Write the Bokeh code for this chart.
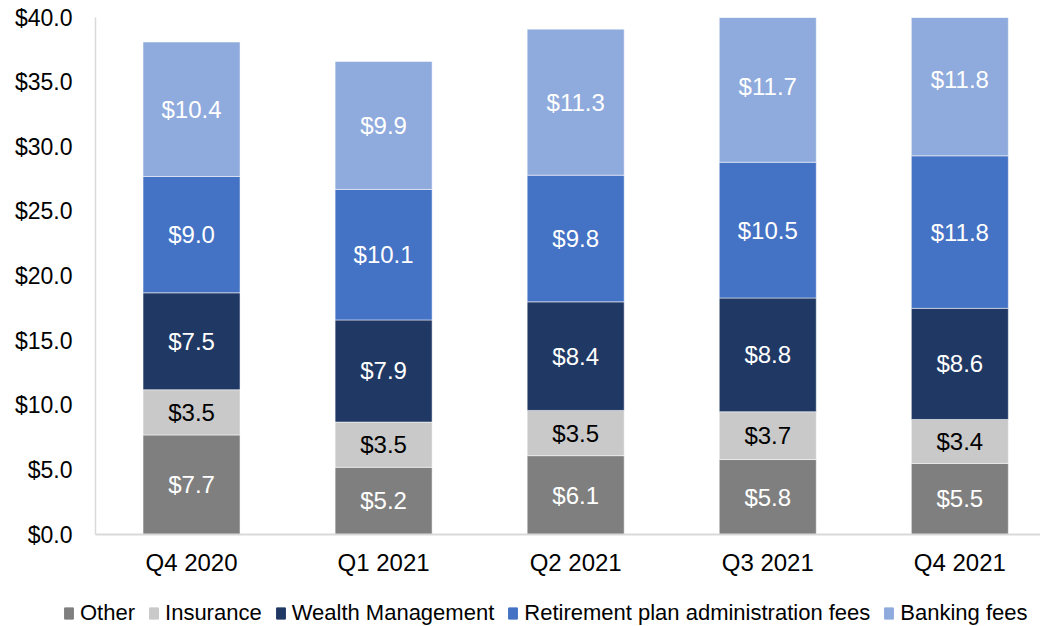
from bokeh.plotting import figure
from bokeh.layouts import column
from bokeh.models import (ColumnDataSource, Range1d, FixedTicker, NumeralTickFormatter,
                          Legend, LegendItem)
from bokeh.core.properties import value
from bokeh.embed import file_html
from bokeh.resources import INLINE

categories = ["Q4 2020", "Q1 2021", "Q2 2021", "Q3 2021", "Q4 2021"]
other = [7.7, 5.2, 6.1, 5.8, 5.5]
insurance = [3.5, 3.5, 3.5, 3.7, 3.4]
wealth = [7.5, 7.9, 8.4, 8.8, 8.6]
retirement = [9.0, 10.1, 9.8, 10.5, 11.8]
banking = [10.4, 9.9, 11.3, 11.7, 11.8]

series_names = ["Other", "Insurance", "Wealth Management",
                "Retirement plan administration fees", "Banking fees"]
series_keys = ["other", "insurance", "wealth", "retirement", "banking"]
series_vals = [other, insurance, wealth, retirement, banking]
colors = ["#7F7F7F", "#C9C9C9", "#203864", "#4472C4", "#8FAADC"]
text_colors = ["#FFFFFF", "#000000", "#FFFFFF", "#FFFFFF", "#FFFFFF"]

FONT = "Liberation Sans"
xs = list(range(len(categories)))

data = {"x": xs}
for k, v in zip(series_keys, series_vals):
    data[k] = v
source = ColumnDataSource(data)

p = figure(width=1040, height=598, output_backend="svg", toolbar_location=None,
           x_range=Range1d(-0.5, 4.42), y_range=Range1d(0, 40),
           min_border_left=95, min_border_right=0, min_border_top=17,
           min_border_bottom=64)
p.outline_line_color = None
p.xgrid.visible = False
p.ygrid.visible = False

renderers = p.vbar_stack(series_keys, x="x", width=0.505, source=source,
                         color=colors, line_color="white", line_width=0.5)

# labels
lx, ly, lt, lc = [], [], [], []
base = [0.0] * len(categories)
for vals, tc in zip(series_vals, text_colors):
    for i, v in enumerate(vals):
        lx.append(xs[i])
        ly.append(base[i] + v / 2.0)
        lt.append("${:.1f}".format(v))
        lc.append(tc)
        base[i] += v
lsrc = ColumnDataSource(dict(x=lx, y=ly, t=lt, c=lc))
p.text(x="x", y="y", text="t", source=lsrc, text_color="c",
       text_align="center", text_baseline="middle",
       text_font=value(FONT), text_font_size="24px")

# axes
p.yaxis.ticker = FixedTicker(ticks=[0, 5, 10, 15, 20, 25, 30, 35, 40])
p.yaxis.formatter = NumeralTickFormatter(format="$0.0")
p.yaxis.major_label_text_font = FONT
p.yaxis.major_label_text_font_size = "23px"
p.yaxis.major_label_text_color = "#000000"
p.yaxis.axis_line_color = "#D9D9D9"
p.yaxis.axis_line_width = 1.5
p.yaxis.major_tick_line_color = None
p.yaxis.minor_tick_line_color = None
p.yaxis.major_tick_out = 0
p.yaxis.major_tick_in = 0
p.yaxis.major_label_standoff = 23

p.xaxis.ticker = FixedTicker(ticks=xs)
p.xaxis.major_label_overrides = {i: c for i, c in zip(xs, categories)}
p.xaxis.major_label_text_font = FONT
p.xaxis.major_label_text_font_size = "24px"
p.xaxis.major_label_text_color = "#000000"
p.xaxis.axis_line_color = "#D9D9D9"
p.xaxis.axis_line_width = 2
p.xaxis.major_tick_line_color = None
p.xaxis.minor_tick_line_color = None
p.xaxis.major_tick_out = 0
p.xaxis.major_tick_in = 0
p.xaxis.major_label_standoff = 14

# legend strip
q = figure(width=1040, height=28, output_backend="svg", toolbar_location=None,
           x_range=Range1d(0, 1), y_range=Range1d(0, 1),
           min_border_left=0, min_border_right=0, min_border_top=0,
           min_border_bottom=0)
q.axis.visible = False
q.grid.visible = False
q.outline_line_color = None
swatches = [q.vbar(x=[-5], top=[-5], bottom=[-6], width=0.1, color=c) for c in colors]

legend_x = 63
try:
    q.frame_align = False
except Exception:
    legend_x = 0

legend = Legend(items=[LegendItem(label=n, renderers=[r])
                       for n, r in zip(series_names, swatches)],
                orientation="horizontal", location=(legend_x, 0),
                label_text_font=FONT, label_text_font_size="22px",
                label_text_color="#000000",
                glyph_width=11, glyph_height=14, label_standoff=6,
                spacing=13, padding=0, margin=0,
                border_line_color=None, background_fill_alpha=0)
q.add_layout(legend)

layout = column(p, q, spacing=0)
open("out.html", "w").write(file_html(layout, INLINE))
